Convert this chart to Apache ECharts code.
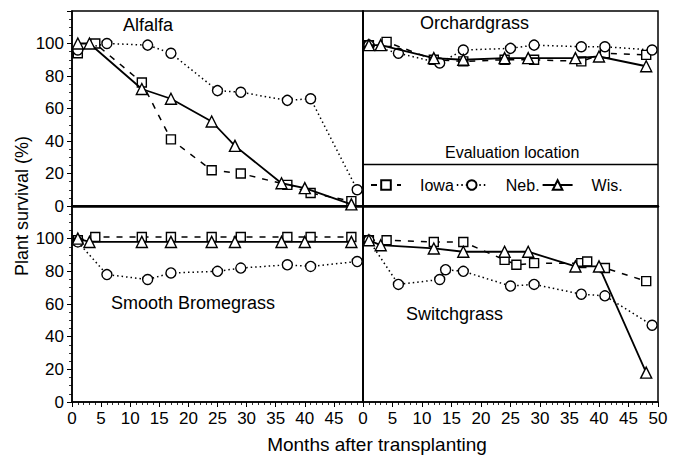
<!DOCTYPE html>
<html>
<head>
<meta charset="utf-8">
<script src="https://cdn.jsdelivr.net/npm/echarts@6/dist/echarts.min.js"></script>
<style>
  html, body { margin: 0; padding: 0; background: #fff; }
  #chart { width: 677px; height: 457px; }
</style>
</head>
<body>
<div id="chart"></div>
<script>
// panels, in grid order: top-left, top-right, bottom-left, bottom-right
const crops = ['Alfalfa', 'Orchardgrass', 'Smooth Bromegrass', 'Switchgrass'];
const locations = ['Iowa', 'Neb.', 'Wis.'];
const xTicks = [0, 5, 10, 15, 20, 25, 30, 35, 40, 45, 50];
const yTicks = [0, 20, 40, 60, 80, 100];

// months after transplanting / survival (%)
const alfalfaIowaMonths = [1, 4, 12, 17, 24, 29, 37, 41, 48];
const alfalfaIowa = [94, 100, 76, 41, 22, 20, 13, 8, 3];
const alfalfaNebMonths = [1, 6, 13, 17, 25, 29, 37, 41, 49];
const alfalfaNeb = [96, 100, 99, 94, 71, 70, 65, 66, 10];
const alfalfaWisMonths = [1, 3, 12, 17, 24, 28, 36, 40, 48];
const alfalfaWis = [100, 100, 72, 66, 52, 37, 14, 11, 1];

const orchardIowaMonths = [1, 4, 12, 17, 24, 29, 37, 41, 48];
const orchardIowa = [99, 101, 90, 89, 90, 90, 89, 94, 93];
const orchardNebMonths = [1, 6, 13, 17, 25, 29, 37, 41, 49];
const orchardNeb = [99, 94, 88, 96, 97, 99, 98, 98, 96];
const orchardWisMonths = [1, 3, 12, 17, 24, 28, 36, 40, 48];
const orchardWis = [99, 99, 91, 90, 91, 91, 91, 92, 86];

const bromeIowaMonths = [1, 4, 12, 17, 24, 29, 37, 41, 48];
const bromeIowa = [99, 101, 101, 101, 101, 101, 101, 101, 101];
const bromeNebMonths = [1, 6, 13, 17, 25, 29, 37, 41, 49];
const bromeNeb = [98, 78, 75, 79, 80, 82, 84, 83, 86];
const bromeWisMonths = [1, 3, 12, 17, 24, 28, 36, 40, 48];
const bromeWis = [100, 98, 98, 98, 98, 98, 98, 98, 98];

const switchIowaMonths = [1, 4, 12, 17, 24, 26, 29, 37, 38, 41, 48];
const switchIowa = [99, 99, 98, 98, 87, 84, 85, 85, 86, 82, 74];
const switchNebMonths = [1, 6, 13, 14, 17, 25, 29, 37, 41, 49];
const switchNeb = [99, 72, 75, 81, 80, 71, 72, 66, 65, 47];
const switchWisMonths = [1, 3, 12, 17, 24, 28, 36, 40, 48];
const switchWis = [99, 96, 94, 92, 92, 92, 83, 83, 18];

const panels = [
  [[alfalfaIowaMonths, alfalfaIowa], [alfalfaNebMonths, alfalfaNeb], [alfalfaWisMonths, alfalfaWis]],
  [[orchardIowaMonths, orchardIowa], [orchardNebMonths, orchardNeb], [orchardWisMonths, orchardWis]],
  [[bromeIowaMonths, bromeIowa], [bromeNebMonths, bromeNeb], [bromeWisMonths, bromeWis]],
  [[switchIowaMonths, switchIowa], [switchNebMonths, switchNeb], [switchWisMonths, switchWis]]
];

const FONT = "'Liberation Sans', Arial, Helvetica, sans-serif";

const lineTypes = {
  'Iowa': { type: [6, 7], width: 1.5, symbol: 'rect', size: 9 },
  'Neb.': { type: [1.5, 3], width: 1.5, symbol: 'circle', size: 10 },
  'Wis.': { type: 'solid', width: 1.8, symbol: 'triangle', size: 11 }
};

const grids = [
  { left: 72, top: 11, width: 291, height: 195 },
  { left: 363, top: 11, width: 295, height: 195 },
  { left: 72, top: 206, width: 291, height: 196 },
  { left: 363, top: 206, width: 295, height: 196 }
].map(g => ({ ...g, show: true, borderColor: '#000', borderWidth: 1.5 }));

const xAxes = grids.map((g, i) => {
  const bottom = i >= 2;
  return {
    type: 'value', gridIndex: i,
    min: xTicks[0], max: xTicks[xTicks.length - 1], interval: 5,
    splitLine: { show: false },
    axisLine: { show: true, onZero: false, lineStyle: { color: '#000', width: bottom ? 1.5 : 2.5 } },
    axisTick: { show: bottom, inside: false, length: 5, lineStyle: { color: '#000', width: 1 } },
    minorTick: { show: bottom, splitNumber: 5, length: 3, lineStyle: { color: '#000', width: 0.8 } },
    axisLabel: {
      show: bottom, margin: 8, color: '#000', fontSize: 17, fontFamily: FONT,
      formatter: v => (i === 2 && v === 50) ? '' : String(v)
    }
  };
});

const yAxes = grids.map((g, i) => {
  const left = i % 2 === 0;
  return {
    type: 'value', gridIndex: i,
    min: 0, max: 120, interval: 20,
    splitLine: { show: false },
    axisLine: { show: true, onZero: false, lineStyle: { color: '#000', width: 1.5 } },
    axisTick: { show: left, inside: false, length: 5, lineStyle: { color: '#000', width: 1 } },
    minorTick: { show: left, splitNumber: 4, length: 3, lineStyle: { color: '#000', width: 0.8 } },
    axisLabel: {
      show: left, margin: 8, color: '#000', fontSize: 17, fontFamily: FONT,
      formatter: v => yTicks.includes(v) ? String(v) : ''
    }
  };
});

const series = [];
panels.forEach((panel, i) => {
  panel.forEach(([months, values], k) => {
    const name = locations[k];
    const st = lineTypes[name];
    series.push({
      name: name,
      type: 'line',
      xAxisIndex: i, yAxisIndex: i,
      data: months.map((m, j) => [m, values[j]]),
      symbol: st.symbol,
      symbolSize: st.size,
      showAllSymbol: true,
      lineStyle: { color: '#000', width: st.width, type: st.type },
      itemStyle: { color: '#fff', borderColor: '#000', borderWidth: 1.4 },
      emphasis: { disabled: true },
      animation: false,
      z: 3 + k
    });
  });
});

const titleStyle = { fontSize: 18, fontWeight: 'normal', color: '#000', fontFamily: FONT };

const option = {
  animation: false,
  title: [
    { text: crops[0], left: 123, top: 16, padding: 0, textStyle: titleStyle },
    { text: crops[1], left: 420, top: 14, padding: 0, textStyle: titleStyle },
    { text: crops[2], left: 111, top: 294, padding: 0, textStyle: titleStyle },
    { text: crops[3], left: 406, top: 305, padding: 0, textStyle: titleStyle },
    { text: 'Evaluation location', left: 445, top: 144, padding: 0,
      textStyle: { ...titleStyle, fontSize: 16 } }
  ],
  legend: {
    data: locations,
    left: 370, top: 177,
    padding: 0,
    itemWidth: 30, itemHeight: 12,
    itemGap: 2,
    textStyle: { color: '#000', fontSize: 16, fontFamily: FONT, padding: [0, 0, 0, 14] }
  },
  grid: grids,
  xAxis: xAxes,
  yAxis: yAxes,
  series: series,
  graphic: [
    { type: 'line', shape: { x1: 363, y1: 164.5, x2: 658, y2: 164.5 },
      style: { stroke: '#000', lineWidth: 1.5 }, z: 10 },
    { type: 'text', x: 22, y: 206, rotation: Math.PI / 2,
      style: { text: 'Plant survival (%)', fontSize: 18, fontFamily: FONT, fill: '#000',
               textAlign: 'center', textVerticalAlign: 'middle' } },
    { type: 'text', x: 377, y: 444,
      style: { text: 'Months after transplanting', fontSize: 19, fontFamily: FONT, fill: '#000',
               textAlign: 'center', textVerticalAlign: 'middle' } }
  ]
};

const chart = echarts.init(document.getElementById('chart'), null, { renderer: 'svg' });
chart.setOption(option);
</script>
</body>
</html>
